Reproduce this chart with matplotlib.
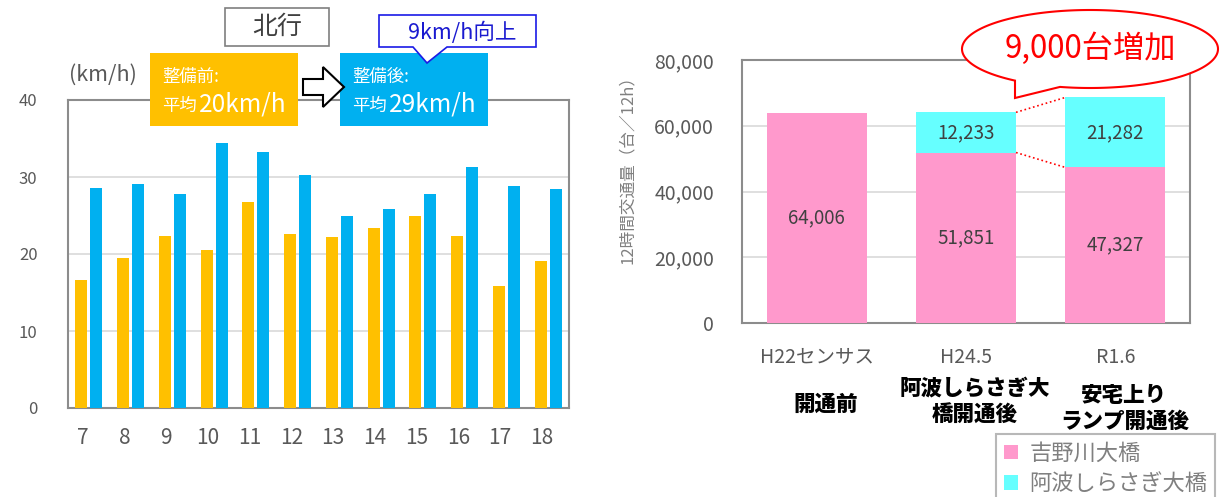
import numpy as np
import matplotlib
matplotlib.use('Agg')
import matplotlib.pyplot as plt
from matplotlib.patches import Polygon
from matplotlib.transforms import Affine2D
from matplotlib.ticker import FuncFormatter

plt.rcParams['font.family'] = ['Noto Sans CJK JP', 'DejaVu Sans']

# 左: 北行の時間帯別旅行速度 (km/h)
hours = ['7', '8', '9', '10', '11', '12', '13', '14', '15', '16', '17', '18']
speed_before = [16.6, 19.5, 22.4, 20.5, 26.7, 22.6, 22.2, 23.4, 24.9, 22.4, 15.8, 19.1]
speed_after = [28.6, 29.1, 27.8, 34.4, 33.3, 30.2, 25.0, 25.9, 27.8, 31.3, 28.8, 28.4]

# 右: 12時間交通量
periods = ['H22センサス', 'H24.5', 'R1.6']
period_notes = ['開通前', '阿波しらさぎ大\n橋開通後', '安宅上り\nランプ開通後']
yoshinogawa = [64006, 51851, 47327]
shirasagi = [0, 12233, 21282]

ORANGE = '#FFC000'
BLUE = '#00B0F0'
PINK = '#FF99CC'
CYAN = '#66FFFF'
GRID = '#D9D9D9'
SPINE = '#8C8C8C'
TICK = '#595959'

W, H = 1222, 497
fig = plt.figure(figsize=(W / 100, H / 100), dpi=100)
# ピクセル座標 (左上原点) 用の変換
px = Affine2D().scale(1 / W, -1 / H).translate(0, 1) + fig.transFigure


def style_axes(ax):
    ax.set_axisbelow(True)
    ax.yaxis.grid(True, color=GRID, lw=1.2)
    for s in ax.spines.values():
        s.set_color(SPINE)
        s.set_linewidth(1.5)
    ax.tick_params(length=0, colors=TICK)


# ---- 左のグラフ ----
ax1 = fig.add_axes([68 / W, 1 - 408 / H, 501 / W, 308 / H])
x = np.arange(len(hours))
ax1.bar(x - 0.18, speed_before, 0.29, color=ORANGE, zorder=3)
ax1.bar(x + 0.18, speed_after, 0.29, color=BLUE, zorder=3)
ax1.set_xlim(-0.5, len(hours) - 0.5)
ax1.set_ylim(0, 40)
ax1.set_yticks(range(0, 41, 10))
ax1.set_xticks(x - 0.15, hours)
style_axes(ax1)
ax1.tick_params(axis='x', labelsize=15, pad=14)
ax1.tick_params(axis='y', labelsize=12, pad=22)

fig.text(69, 75, '(km/h)', transform=px, fontsize=15.5, color=TICK, va='center')


def box(x0, y0, x1, y1, **kw):
    p = Polygon([(x0, y0), (x1, y0), (x1, y1), (x0, y1)], closed=True,
                transform=px, **kw)
    fig.add_artist(p)
    return p


# 北行
box(225, 8, 329, 46, facecolor='white', edgecolor='#7F7F7F', lw=1.2, zorder=10)
fig.text(277, 27, '北行', transform=px, fontsize=18, color='#404040',
         ha='center', va='center', zorder=11)

# 整備前 / 整備後 の箱
box(150, 53, 298, 126, facecolor=ORANGE, edgecolor='none', zorder=10)
fig.text(162, 82, '整備前:', transform=px, fontsize=12.5, color='white', va='baseline', zorder=11)
fig.text(162, 111, '平均', transform=px, fontsize=12.5, color='white', va='baseline', zorder=11)
fig.text(199, 111, '20km/h', transform=px, fontsize=17.5, color='white', va='baseline', zorder=11)

box(340, 53, 488, 126, facecolor=BLUE, edgecolor='none', zorder=10)
fig.text(352, 82, '整備後:', transform=px, fontsize=12.5, color='white', va='baseline', zorder=11)
fig.text(352, 111, '平均', transform=px, fontsize=12.5, color='white', va='baseline', zorder=11)
fig.text(389, 111, '29km/h', transform=px, fontsize=17.5, color='white', va='baseline', zorder=11)

# 白抜き矢印
arrow = Polygon([(303, 79), (323, 79), (323, 67), (344, 87), (323, 107), (323, 95), (303, 95)],
                closed=True, facecolor='white', edgecolor='black', lw=1.5, transform=px, zorder=10)
fig.add_artist(arrow)

# 9km/h向上 吹き出し
callout = Polygon([(379, 15), (536, 15), (536, 47), (447, 47), (427, 63), (413, 47), (379, 47)],
                  closed=True, facecolor='white', edgecolor='#1A1AE6', lw=1.2, transform=px, zorder=12)
fig.add_artist(callout)
fig.text(462, 33, '9km/h向上', transform=px, fontsize=15.5, color='#1A1AD0',
         ha='center', va='center', zorder=13)

# ---- 右のグラフ ----
ax2 = fig.add_axes([742 / W, 1 - 323 / H, 448 / W, 263 / H])
xp = np.arange(len(periods))
bw = 0.67
b1 = ax2.bar(xp, yoshinogawa, bw, color=PINK, zorder=3, label='吉野川大橋')
b2 = ax2.bar(xp, shirasagi, bw, bottom=yoshinogawa, color=CYAN, zorder=3, label='阿波しらさぎ大橋')
ax2.set_xlim(-0.5, len(periods) - 0.5)
ax2.set_ylim(0, 80000)
ax2.set_yticks(range(0, 80001, 20000))
ax2.yaxis.set_major_formatter(FuncFormatter(lambda v, p: f'{int(v):,}'))
ax2.set_xticks(xp, periods)
style_axes(ax2)
ax2.tick_params(axis='y', labelsize=14, pad=20)
ax2.tick_params(axis='x', labelsize=14, pad=17)

for i in xp:
    ax2.text(i, yoshinogawa[i] / 2, f'{yoshinogawa[i]:,}', ha='center', va='center',
             fontsize=13.5, color='#404040', zorder=5)
    if shirasagi[i] > 0:
        ax2.text(i, yoshinogawa[i] + shirasagi[i] / 2, f'{shirasagi[i]:,}', ha='center',
                 va='center', fontsize=13.5, color='#404040', zorder=5)

# 増加を示す赤点線
tot = [a + b for a, b in zip(yoshinogawa, shirasagi)]
ax2.plot([1 + bw / 2, 2 - bw / 2], [tot[1], tot[2]], color='red', ls=':', lw=1.2, zorder=4)
ax2.plot([1 + bw / 2, 2 - bw / 2], [yoshinogawa[1], yoshinogawa[2]], color='red', ls=':', lw=1.2, zorder=4)

# 開通前・後の注記
note_y = [-0.31, -0.297, -0.325]
for i, note in enumerate(period_notes):
    ax2.text(i + 0.06, note_y[i], note, transform=ax2.get_xaxis_transform(), ha='center',
             va='center', fontsize=15.5, fontweight='heavy', color='black', linespacing=1.2)

fig.text(627, 166, '12時間交通量（台／12h）', transform=px, rotation=90, fontsize=12,
         color='#808080', ha='center', va='center')

# 9,000台増加 吹き出し (楕円＋しっぽ)
cx, cy, ea, eb = 1090, 49, 128, 39
t1 = np.arccos((1015 - cx) / ea)
t2 = np.arccos((1060 - cx) / ea)
t = np.linspace(t1, t2 + 2 * np.pi, 240)
pts = np.column_stack([cx + ea * np.cos(t), cy + eb * np.sin(t)])
pts = np.vstack([pts, [1015, 98]])
bubble = Polygon(pts, closed=True, facecolor='white', edgecolor='red', lw=1.5,
                 transform=px, zorder=10)
fig.add_artist(bubble)
fig.text(cx, cy, '9,000台増加', transform=px, fontsize=22.5, color='red',
         ha='center', va='center', zorder=11)

# 凡例
leg = fig.legend(handles=[b1, b2], loc='upper left', bbox_to_anchor=(996 / W, 1 - 434 / H),
                 frameon=True, fancybox=False, edgecolor='#A6A6A6', fontsize=16,
                 labelcolor='#808080', handlelength=0.65, handleheight=0.65,
                 handletextpad=0.5, labelspacing=0.35, borderpad=0.35, borderaxespad=0)
leg.get_frame().set_linewidth(1.5)

fig.savefig('out.png', dpi=100)
